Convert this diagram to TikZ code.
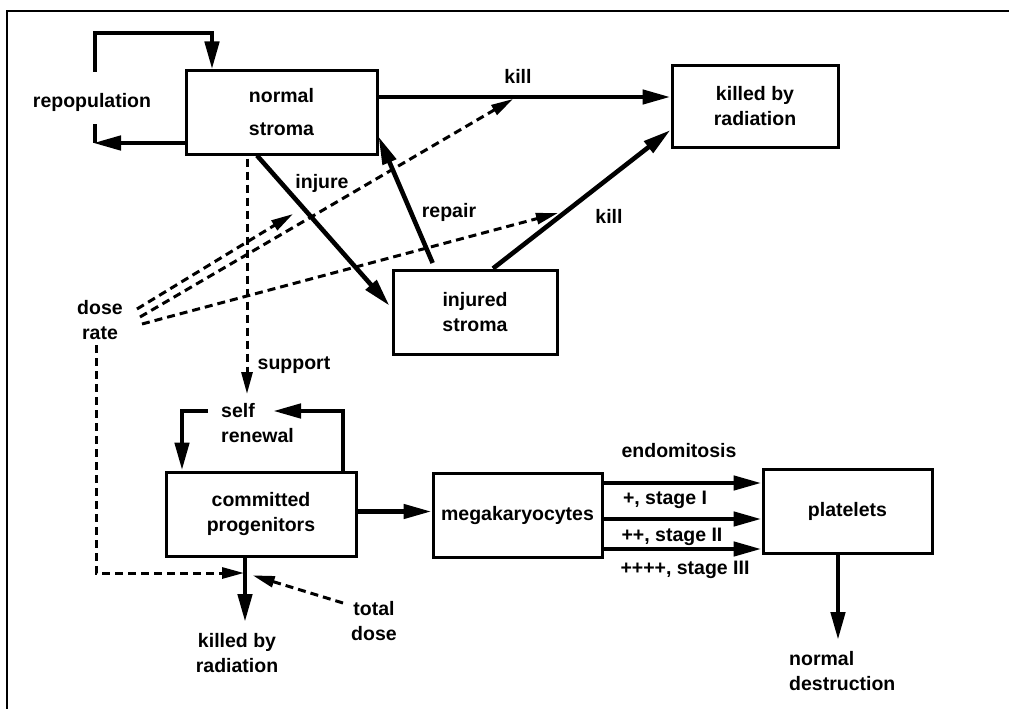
\documentclass[tikz,border=0pt]{standalone}
\usepackage{fontspec}
\setmainfont{Liberation Sans}
\usetikzlibrary{arrows.meta}
\newcommand\dfont{\fontsize{19.5}{25}\selectfont\bfseries}
\begin{document}
\begin{tikzpicture}[x=1pt,y=-1pt,
 box/.style={draw,line width=3pt,inner sep=0pt,align=center,font=\dfont},
 lbl/.style={inner sep=0pt,align=center,font=\dfont},
 arr/.style={line width=4.6pt,-{Triangle[length=28pt,width=14pt]}},
 plain/.style={line width=4.6pt},
 dsh/.style={line width=3pt,dash pattern=on 8pt off 5pt},
 darr/.style={dsh,-{Triangle[length=22pt,width=11pt]}}]
\useasboundingbox (0,0) rectangle (1009,709);
\draw[line width=2.2pt] (7,709) -- (7,11) -- (1009,11);

% boxes
\node[box,minimum width=191pt,minimum height=83pt] (ns) at (281.5,112.5) {normal\\[8pt]stroma};
\node[box,minimum width=166pt,minimum height=81pt] (kr) at (755,106.5) {killed by\\radiation};
\node[box,minimum width=164pt,minimum height=84pt] (is) at (475,312) {injured\\stroma};
\node[box,minimum width=190pt,minimum height=84pt] (cp) at (261,514) {committed\\progenitors};
\node[box,minimum width=169pt,minimum height=84pt] (mg) at (517.5,515) {megakaryocytes};
\node[box,minimum width=169pt,minimum height=84pt] (pl) at (847.5,511) {platelets};

% labels
\node[lbl] (rep) at (92,102) {repopulation};
\node[lbl] (k1) at (518,76) {kill};
\node[lbl] (k2) at (609,216) {kill};
\node[lbl] (inj) at (322,183) {injure};
\node[lbl] (rpr) at (449,212) {repair};
\node[lbl] (sup) at (294,365) {support};
\node[lbl] (dr) at (100,320) {dose\\rate};
\node[lbl,anchor=west,align=left] (sr) at (221,423) {self\\renewal};
\node[lbl] (kr2) at (237,653) {killed by\\radiation};
\node[lbl] (td) at (374,621) {total\\dose};
\node[lbl] (endo) at (679,451) {endomitosis};
\node[lbl] (s1) at (665,500) {+, stage I};
\node[lbl] (s2) at (672,537) {++, stage II};
\node[lbl] (s3) at (685,570) {++++, stage III};
\node[lbl,anchor=west,align=left] (nd) at (789,671) {normal\\destruction};

% helper coordinates
\coordinate (rpA) at (95,72);
\coordinate (rpT) at (212,33);
\coordinate (rpB) at (95,124);
\coordinate (rpC) at (93,143);
\coordinate (ds1) at (137,309);
\coordinate (dt1) at (293,214);
\coordinate (ds2) at (140,317);
\coordinate (dt2) at (513,99);
\coordinate (ds3) at (142,324);
\coordinate (dt3) at (558,213);
\coordinate (supT) at (247,394);
\coordinate (srT) at (273,411);
\coordinate (srL) at (208,411);
\coordinate (kx) at (245,573);
\coordinate (drB) at (96,345);
\coordinate (tdS) at (343,603);
\coordinate (kr2T) at (245,622);
\coordinate (ndT) at (838,640);

% repopulation loop
\draw[arr] (rpA) |- (rpT) -- (rpT |- ns.north);
\draw[arr] (ns.west |- rpC) -- (rpC);
\draw[plain] (rpB) -- (rpB |- rpC);

% stroma arrows
\draw[arr] ([yshift=15.5pt]ns.east) -- ([yshift=15.5pt]ns.east -| kr.west);
\draw[arr] ([xshift=18pt]is.north) -- ([yshift=-23.5pt]kr.west);
\draw[arr,shorten >=3pt] ([xshift=-24.5pt]ns.south) -- ([yshift=4pt]is.west);
\draw[arr,shorten <=6pt] ([xshift=-40pt]is.north) -- ([yshift=-24pt]ns.east);

% dose rate
\draw[darr] (ds1) -- (dt1);
\draw[darr] (ds2) -- (dt2);
\draw[darr] (ds3) -- (dt3);
\draw[darr,shorten <=3pt] ([xshift=-34.5pt]ns.south) -- (supT);
\draw[darr,shorten >=1pt] (drB) |- (kx);
\draw[darr,shorten >=8pt] (tdS) -- (kx);

% progenitors
\draw[arr] ([xshift=-16pt]cp.south) -- (kr2T);
\draw[arr] ([xshift=82pt]cp.north) |- (srT);
\draw[arr] (srL) -| ([xshift=-79pt]cp.north);
\draw[arr] ([yshift=2.5pt]cp.east) -- ([yshift=2.5pt]cp.east -| mg.west);

% endomitosis
\draw[arr] ([yshift=32pt]mg.east) -- ([yshift=32pt]mg.east -| pl.west);
\draw[arr] ([yshift=-4pt]mg.east) -- ([yshift=-4pt]mg.east -| pl.west);
\draw[arr] ([yshift=-34pt]mg.east) -- ([yshift=-34pt]mg.east -| pl.west);
\draw[arr] ([xshift=-9.5pt]pl.south) -- (ndT);
\end{tikzpicture}
\end{document}
